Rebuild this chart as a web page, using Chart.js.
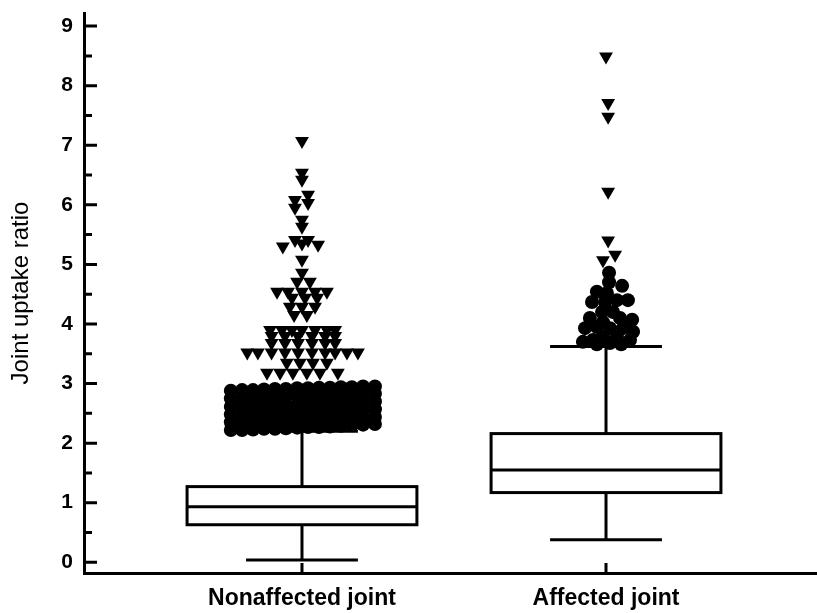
<!DOCTYPE html>
<html>
<head>
<meta charset="utf-8">
<script src="https://cdn.jsdelivr.net/npm/chart.js@4"></script>
<style>
  body { margin: 0; background: #fff; }
  #wrap { width: 817px; height: 613px; position: relative; }
</style>
</head>
<body>
<div id="wrap"><canvas id="jointChart"></canvas></div>
<script>
const categories = ['Nonaffected joint', 'Affected joint']

// box statistics, one entry per category
const whiskerLow = [0.04, 0.38]
const q1 = [0.63, 1.17]
const median = [0.93, 1.55]
const q3 = [1.27, 2.16]
const whiskerHigh = [2.2, 3.62]

const yTicks = [0, 1, 2, 3, 4, 5, 6, 7, 8, 9]
const yMinorTicks = [0.5, 1.5, 2.5, 3.5, 4.5, 5.5, 6.5, 7.5, 8.5]

// outliers as [x, value], x = category position with jitter
const nonaffectedCircles = [
  [0.766, 2.88], [0.803, 2.89], [0.839, 2.89], [0.875, 2.90], [0.911, 2.91], [0.947, 2.91], [0.984, 2.92],
  [1.020, 2.92], [1.056, 2.93], [1.092, 2.93], [1.128, 2.94], [1.164, 2.94], [1.201, 2.95], [1.240, 2.95],
  [0.766, 2.75], [0.803, 2.75], [0.839, 2.76], [0.875, 2.77], [0.911, 2.77], [0.947, 2.78], [0.984, 2.79],
  [1.020, 2.79], [1.056, 2.80], [1.092, 2.80], [1.128, 2.81], [1.164, 2.82], [1.201, 2.82], [1.240, 2.83],
  [0.766, 2.61], [0.803, 2.62], [0.839, 2.62], [0.875, 2.63], [0.911, 2.64], [0.947, 2.64], [0.984, 2.65],
  [1.020, 2.66], [1.056, 2.66], [1.092, 2.67], [1.128, 2.68], [1.164, 2.68], [1.201, 2.69], [1.240, 2.70],
  [0.766, 2.48], [0.803, 2.48], [0.839, 2.49], [0.875, 2.50], [0.911, 2.50], [0.947, 2.51], [0.984, 2.52],
  [1.020, 2.53], [1.056, 2.53], [1.092, 2.54], [1.128, 2.55], [1.164, 2.55], [1.201, 2.56], [1.240, 2.57],
  [0.766, 2.35], [0.803, 2.35], [0.839, 2.36], [0.875, 2.37], [0.911, 2.37], [0.947, 2.38], [0.984, 2.39],
  [1.020, 2.40], [1.056, 2.40], [1.092, 2.41], [1.128, 2.42], [1.164, 2.42], [1.201, 2.43], [1.240, 2.44],
  [0.766, 2.22], [0.803, 2.22], [0.839, 2.23], [0.875, 2.24], [0.911, 2.24], [0.947, 2.25], [0.984, 2.26],
  [1.020, 2.27], [1.056, 2.27], [1.092, 2.28], [1.128, 2.29], [1.164, 2.30], [1.201, 2.31], [1.240, 2.32],
]

const nonaffectedTriangles = [
  [1.0, 7.07], [1.0, 6.54], [1.0, 6.42],
  [1.02, 6.17], [0.977, 6.08], [1.02, 6.03], [0.977, 5.95],
  [1.0, 5.75], [1.0, 5.63],
  [0.937, 5.3], [0.977, 5.41], [1.0, 5.35], [1.02, 5.41], [1.053, 5.33],
  [1.0, 5.08], [1.0, 4.86], [0.984, 4.71], [1.026, 4.71],
  [0.918, 4.54], [0.954, 4.54], [1.0, 4.54], [1.043, 4.54], [1.082, 4.54],
  [0.967, 4.44], [1.01, 4.44], [1.05, 4.44],
  [0.96, 4.29], [1.0, 4.29], [1.043, 4.29],
  [0.974, 4.15], [1.016, 4.15],
  [0.895, 3.9], [0.934, 3.9], [0.967, 3.9], [1.0, 3.9], [1.043, 3.9], [1.082, 3.9], [1.109, 3.9],
  [0.90, 3.8], [0.944, 3.8], [0.987, 3.8], [1.033, 3.8], [1.076, 3.8], [1.109, 3.8],
  [0.90, 3.68], [0.944, 3.68], [0.987, 3.68], [1.033, 3.68], [1.076, 3.68], [1.109, 3.68],
  [0.82, 3.52], [0.855, 3.52], [0.90, 3.52], [0.944, 3.52], [0.987, 3.52],
  [1.033, 3.52], [1.076, 3.52], [1.109, 3.52], [1.148, 3.52], [1.184, 3.52],
  [0.95, 3.35], [0.993, 3.35], [1.036, 3.35], [1.082, 3.35],
  [0.885, 3.18], [0.928, 3.18], [0.97, 3.18], [1.016, 3.18], [1.059, 3.18], [1.118, 3.18],
]

const affectedCircles = [
  [2.01, 4.86], [2.01, 4.70], [2.053, 4.64], [1.97, 4.54], [2.003, 4.52],
  [1.954, 4.37], [1.997, 4.37], [2.036, 4.40], [2.072, 4.40],
  [1.987, 4.20], [2.023, 4.20], [1.947, 4.10], [2.046, 4.10], [2.086, 4.07], [1.99, 4.03],
  [1.931, 3.93], [1.97, 3.95], [2.013, 3.93], [2.056, 3.93], [2.089, 3.87],
  [1.99, 3.78], [2.036, 3.78], [1.924, 3.70], [1.957, 3.73], [2.079, 3.73],
  [2.013, 3.68], [1.97, 3.66], [2.05, 3.66],
]

const affectedTriangles = [
  [2.0, 8.49], [2.007, 7.71], [2.007, 7.48], [2.007, 6.22], [2.007, 5.40], [2.03, 5.16], [1.99, 5.07],
]

const boxHalfWidth = 0.378
const capHalfWidth = 0.184

function toPoints(list) {
  return list.map(p => ({ x: p[0], y: p[1] }))
}

// keep the plot area fixed, label overhang is not wanted here
function noLabelPadding(axis) {
  axis.paddingTop = 0
  axis.paddingBottom = 0
  axis.paddingLeft = 0
  axis.paddingRight = 0
}

const boxPlotPlugin = {
  id: 'boxPlot',
  beforeDatasetsDraw(chart) {
    const { ctx, scales } = chart
    const xs = scales.x
    const ys = scales.y

    ctx.save()
    ctx.strokeStyle = '#000'
    ctx.lineWidth = 3
    ctx.fillStyle = '#fff'

    categories.forEach((cat, i) => {
      const pos = i + 1
      const cx = xs.getPixelForValue(pos)
      const left = xs.getPixelForValue(pos - boxHalfWidth)
      const right = xs.getPixelForValue(pos + boxHalfWidth)
      const capLeft = xs.getPixelForValue(pos - capHalfWidth)
      const capRight = xs.getPixelForValue(pos + capHalfWidth)
      const yLow = ys.getPixelForValue(whiskerLow[i])
      const yQ1 = ys.getPixelForValue(q1[i])
      const yMed = ys.getPixelForValue(median[i])
      const yQ3 = ys.getPixelForValue(q3[i])
      const yHigh = ys.getPixelForValue(whiskerHigh[i])

      // whiskers and caps
      ctx.beginPath()
      ctx.moveTo(cx, yQ3)
      ctx.lineTo(cx, yHigh)
      ctx.moveTo(capLeft, yHigh)
      ctx.lineTo(capRight, yHigh)
      ctx.moveTo(cx, yQ1)
      ctx.lineTo(cx, yLow)
      ctx.moveTo(capLeft, yLow)
      ctx.lineTo(capRight, yLow)
      ctx.stroke()

      // box and median
      ctx.fillRect(left, yQ3, right - left, yQ1 - yQ3)
      ctx.strokeRect(left, yQ3, right - left, yQ1 - yQ3)
      ctx.beginPath()
      ctx.moveTo(left, yMed)
      ctx.lineTo(right, yMed)
      ctx.stroke()
    })
    ctx.restore()
  },
  afterDraw(chart) {
    // tick marks point inward, so they are drawn here
    const { ctx, scales, chartArea } = chart
    ctx.save()
    ctx.strokeStyle = '#000'
    ctx.lineWidth = 3
    ctx.beginPath()
    yTicks.forEach(v => {
      const y = ys(v)
      ctx.moveTo(chartArea.left, y)
      ctx.lineTo(chartArea.left + 13, y)
    })
    yMinorTicks.forEach(v => {
      const y = ys(v)
      ctx.moveTo(chartArea.left, y)
      ctx.lineTo(chartArea.left + 8, y)
    })
    categories.forEach((cat, i) => {
      const x = scales.x.getPixelForValue(i + 1)
      ctx.moveTo(x, chartArea.bottom)
      ctx.lineTo(x, chartArea.bottom - 10)
    })
    ctx.stroke()
    ctx.restore()

    function ys(v) {
      return scales.y.getPixelForValue(v)
    }
  },
}

function makeChart() {
  const ctx = document.getElementById('jointChart').getContext('2d')
  Chart.defaults.color = '#000'
  Chart.defaults.font.family = '"Liberation Sans", Arial, sans-serif'

  new Chart(ctx, {
    type: 'scatter',
    data: {
      datasets: [
        {
          label: 'Nonaffected circles',
          data: toPoints(nonaffectedCircles),
          pointStyle: 'circle',
          pointRadius: 7,
          backgroundColor: '#000',
          borderWidth: 0,
        },
        {
          label: 'Nonaffected triangles',
          data: toPoints(nonaffectedTriangles),
          pointStyle: 'triangle',
          pointRotation: 180,
          pointRadius: 8,
          backgroundColor: '#000',
          borderWidth: 0,
        },
        {
          label: 'Affected circles',
          data: toPoints(affectedCircles),
          pointStyle: 'circle',
          pointRadius: 7,
          backgroundColor: '#000',
          borderWidth: 0,
        },
        {
          label: 'Affected triangles',
          data: toPoints(affectedTriangles),
          pointStyle: 'triangle',
          pointRotation: 180,
          pointRadius: 8,
          backgroundColor: '#000',
          borderWidth: 0,
        },
      ],
    },
    options: {
      responsive: true,
      maintainAspectRatio: false,
      animation: false,
      layout: { autoPadding: false, padding: { top: 13, right: 0, bottom: 0, left: 0 } },
      plugins: {
        legend: { display: false },
        tooltip: { enabled: false },
      },
      scales: {
        x: {
          type: 'linear',
          min: 0.283,
          max: 2.694,
          grid: { display: false, drawTicks: false },
          border: { display: true, color: '#000', width: 3 },
          afterBuildTicks: axis => {
            axis.ticks = categories.map((c, i) => ({ value: i + 1 }))
          },
          afterFit: axis => {
            axis.height = 40
            noLabelPadding(axis)
          },
          ticks: {
            padding: 12,
            autoSkip: false,
            maxRotation: 0,
            font: { size: 23, weight: 'bold' },
            callback: value => categories[value - 1],
          },
        },
        y: {
          type: 'linear',
          min: -0.18,
          max: 9.22,
          grid: { display: false, drawTicks: false },
          border: { display: true, color: '#000', width: 3 },
          afterBuildTicks: axis => {
            axis.ticks = yTicks.map(v => ({ value: v }))
          },
          afterFit: axis => {
            axis.width = 84
            noLabelPadding(axis)
          },
          ticks: {
            padding: 11,
            font: { size: 21, weight: 'bold' },
          },
          title: {
            display: true,
            text: 'Joint uptake ratio',
            font: { size: 24 },
            padding: { top: 7, bottom: 0 },
          },
        },
      },
    },
    plugins: [boxPlotPlugin],
  })
}

window.addEventListener('load', makeChart)
</script>
</body>
</html>
